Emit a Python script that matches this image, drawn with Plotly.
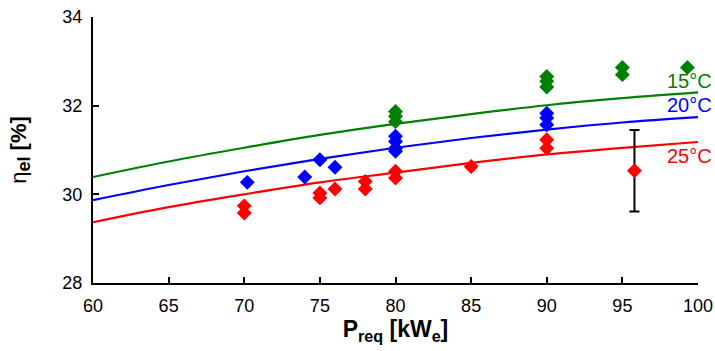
import plotly.graph_objects as go

# Model curves (read at 5 kW steps)
p_curve = [60, 65, 70, 75, 80, 85, 90, 95, 100]
eta_15 = [30.39, 30.74, 31.05, 31.34, 31.59, 31.81, 32.01, 32.17, 32.30]
eta_20 = [29.87, 30.21, 30.52, 30.80, 31.05, 31.27, 31.46, 31.62, 31.74]
eta_25 = [29.37, 29.71, 30.00, 30.27, 30.49, 30.71, 30.90, 31.05, 31.18]

# Measurements
p_15 = [80, 80, 80, 90, 90, 90, 95, 95, 99.3]
m_15 = [31.87, 31.76, 31.64, 32.66, 32.55, 32.42, 32.86, 32.70, 32.86]

p_20 = [70.2, 74, 75, 76, 80, 80, 80, 80, 90, 90, 90]
m_20 = [30.27, 30.39, 30.78, 30.61, 31.31, 31.19, 31.04, 30.97, 31.83, 31.72, 31.57]

p_25 = [70, 70, 75, 75, 76, 78, 78, 80, 80, 85, 90, 90]
m_25 = [29.74, 29.58, 30.03, 29.92, 30.12, 30.29, 30.12, 30.52, 30.37, 30.63, 31.23, 31.04]

# Point with uncertainty bar
p_err = [95.8]
m_err = [30.53]
e_err = [0.92]

labels = ["15°C", "20°C", "25°C"]
label_y = [32.56, 32.01, 30.86]
GREEN, BLUE, RED = "#008000", "#0000FF", "#FF0000"
colors = [GREEN, BLUE, RED]

FONT = "Arial, Liberation Sans, sans-serif"

fig = go.Figure()
for y, c in zip([eta_15, eta_20, eta_25], colors):
    fig.add_trace(go.Scatter(x=p_curve, y=y, mode="lines",
                             line=dict(color=c, width=2.2, shape="spline"),
                             showlegend=False, hoverinfo="skip"))

for xs, ys, c in [(p_15, m_15, GREEN), (p_20, m_20, BLUE), (p_25, m_25, RED)]:
    fig.add_trace(go.Scatter(x=xs, y=ys, mode="markers",
                             marker=dict(symbol="diamond", size=11.5, color=c, line=dict(width=0)),
                             showlegend=False))

fig.add_trace(go.Scatter(x=p_err, y=m_err, mode="markers",
                         marker=dict(symbol="diamond", size=11.5, color=RED, line=dict(width=0)),
                         error_y=dict(type="data", array=e_err, visible=True,
                                      color="black", thickness=2, width=5),
                         showlegend=False))

for t, yv, c in zip(labels, label_y, colors):
    fig.add_annotation(x=1.026, y=yv, xref="paper", yref="y", text=t, showarrow=False,
                       xanchor="right", yanchor="middle",
                       font=dict(family=FONT, size=20, color=c))

axis_common = dict(showline=True, linecolor="black", linewidth=2,
                   ticks="inside", ticklen=6, tickwidth=2, tickcolor="black",
                   showgrid=False, zeroline=False, mirror=False, automargin=False,
                   tickfont=dict(family=FONT, size=18, color="black"))

fig.update_xaxes(range=[60, 100], tickvals=[60, 65, 70, 75, 80, 85, 90, 95, 100],
                 ticklabelstandoff=5,
                 title=dict(text="<b>P<sub>req</sub> [kW<sub>e</sub>]</b>",
                            font=dict(family=FONT, size=23, color="black"), standoff=6),
                 **axis_common)
fig.update_yaxes(range=[28, 34], tickvals=[28, 30, 32, 34],
                 ticklabelstandoff=5,
                 title=dict(text="η<sub><b><span style='font-size:18px'>el</span></b></sub><b> [%]</b>",
                            font=dict(family=FONT, size=22, color="black"), standoff=30),
                 **axis_common)

fig.update_layout(width=715, height=351, margin=dict(l=93, r=17, t=17, b=68),
                  plot_bgcolor="white", paper_bgcolor="white",
                  font=dict(family=FONT, color="black"))

fig.write_html("out.html")
